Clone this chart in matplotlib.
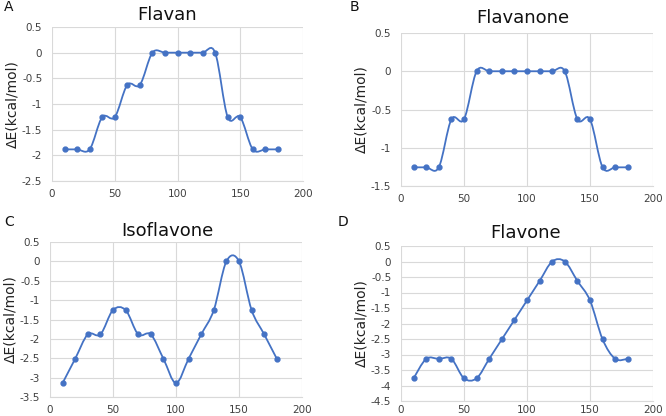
import matplotlib
matplotlib.use("Agg")
import matplotlib.pyplot as plt
from matplotlib.path import Path
from matplotlib.patches import PathPatch

plt.rcParams["font.family"] = ["DejaVu Sans"]

angles = [10, 20, 30, 40, 50, 60, 70, 80, 90, 100, 110, 120, 130, 140, 150, 160, 170, 180]

flavan = [-1.884, -1.884, -1.884, -1.256, -1.256, -0.628, -0.628, 0, 0, 0, 0, 0, 0,
          -1.256, -1.256, -1.884, -1.884, -1.884]
flavanone = [-1.256, -1.256, -1.256, -0.628, -0.628, 0, 0, 0, 0, 0, 0, 0, 0,
             -0.628, -0.628, -1.256, -1.256, -1.256]
isoflavone = [-3.14, -2.512, -1.884, -1.884, -1.256, -1.256, -1.884, -1.884, -2.512,
              -3.14, -2.512, -1.884, -1.256, 0, 0, -1.256, -1.884, -2.512]
flavone = [-3.768, -3.14, -3.14, -3.14, -3.768, -3.768, -3.14, -2.512, -1.884,
           -1.256, -0.628, 0, 0, -0.628, -1.256, -2.512, -3.14, -3.14]

titles = ["Flavan", "Flavanone", "Isoflavone", "Flavone"]
letters = ["A", "B", "C", "D"]
series = [flavan, flavanone, isoflavone, flavone]
ylims = [(-2.5, 0.5), (-1.5, 0.5), (-3.5, 0.5), (-4.5, 0.5)]

W, H = 666, 416
# plot area boxes in pixels: left, top, right, bottom
boxes = [(52, 27, 303, 181), (401, 33, 653, 186), (50, 242, 302, 397), (401, 246, 653, 401)]
title_pos = [(167, 15), (523, 18), (167, 231), (526, 233)]
letter_pos = [(4, 7), (350, 7), (4, 222), (338, 222)]
xpads = [6, 6, 6, 3]

blue = "#4472C4"
grey = "#D9D9D9"
txt = "#404040"


def smooth_path(x, y, t=1 / 6):
    # Excel style smoothed line: cubic bezier through the points
    n = len(x)
    verts = [(x[0], y[0])]
    codes = [Path.MOVETO]
    for i in range(n - 1):
        x0, y0 = (x[i - 1], y[i - 1]) if i > 0 else (x[i], y[i])
        x3, y3 = (x[i + 2], y[i + 2]) if i + 2 < n else (x[i + 1], y[i + 1])
        c1 = (x[i] + (x[i + 1] - x0) * t, y[i] + (y[i + 1] - y0) * t)
        c2 = (x[i + 1] - (x3 - x[i]) * t, y[i + 1] - (y3 - y[i]) * t)
        verts += [c1, c2, (x[i + 1], y[i + 1])]
        codes += [Path.CURVE4] * 3
    return Path(verts, codes)


fig = plt.figure(figsize=(W / 100, H / 100), dpi=100)

for k in range(4):
    l, t, r, b = boxes[k]
    ax = fig.add_axes([l / W, 1 - b / H, (r - l) / W, (b - t) / H])
    lo, hi = ylims[k]
    ax.add_patch(PathPatch(smooth_path(angles, series[k]), facecolor="none",
                           edgecolor=blue, lw=1.3, zorder=3))
    ax.plot(angles, series[k], "o", color=blue, ms=3.5, zorder=4)
    ax.set_xlim(0, 200)
    ax.set_ylim(lo, hi)
    ax.set_xticks([0, 50, 100, 150, 200])
    yt = [lo + 0.5 * i for i in range(int(round((hi - lo) / 0.5)) + 1)]
    ax.set_yticks(yt)
    ax.set_yticklabels([("%g" % v) for v in yt])
    ax.grid(True, color=grey, lw=0.8)
    ax.set_axisbelow(True)
    for s in ["top", "right", "left"]:
        ax.spines[s].set_visible(False)
    ax.spines["bottom"].set_color(grey)
    ax.tick_params(length=0, labelsize=7.5, colors=txt)
    ax.tick_params(axis="x", pad=xpads[k])
    ax.tick_params(axis="y", pad=7)
    ax.set_ylabel("ΔE(kcal/mol)", fontsize=10, color="#222222", labelpad=2)
    tx, ty = title_pos[k]
    fig.text(tx / W, 1 - ty / H, titles[k], fontsize=13, ha="center", va="center",
             color="#111111")
    lx, ly = letter_pos[k]
    fig.text(lx / W, 1 - ly / H, letters[k], fontsize=10, ha="left", va="center",
             color="#111111")

fig.savefig("out.png", dpi=100, facecolor="white")
